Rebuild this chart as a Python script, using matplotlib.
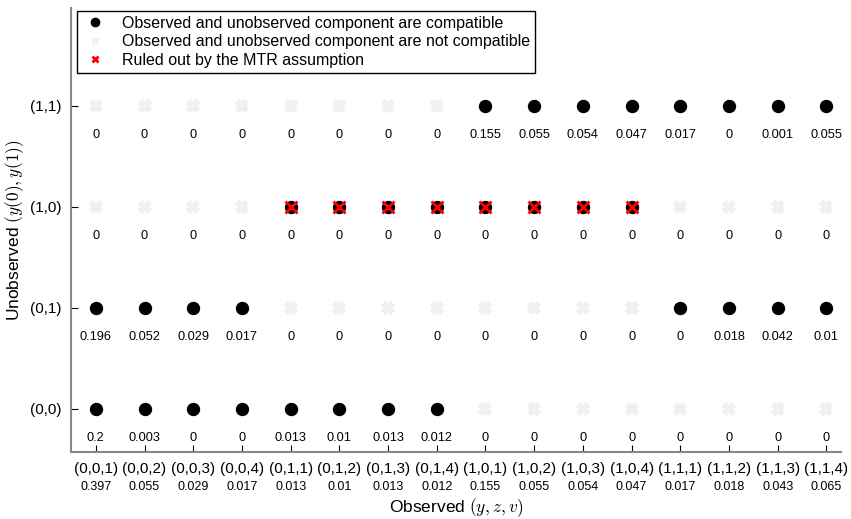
import matplotlib
matplotlib.use("Agg")
import matplotlib.pyplot as plt
import matplotlib.transforms as mtransforms
from matplotlib.lines import Line2D
import numpy as np

plt.rcParams['font.family'] = ['Liberation Sans', 'DejaVu Sans']
plt.rcParams['mathtext.fontset'] = 'cm'

observed = ["(0,0,1)", "(0,0,2)", "(0,0,3)", "(0,0,4)", "(0,1,1)", "(0,1,2)", "(0,1,3)", "(0,1,4)",
            "(1,0,1)", "(1,0,2)", "(1,0,3)", "(1,0,4)", "(1,1,1)", "(1,1,2)", "(1,1,3)", "(1,1,4)"]
marginal = [0.397, 0.055, 0.029, 0.017, 0.013, 0.01, 0.013, 0.012,
            0.155, 0.055, 0.054, 0.047, 0.017, 0.018, 0.043, 0.065]
unobserved = ["(0,0)", "(0,1)", "(1,0)", "(1,1)"]

prob_00 = [0.2, 0.003, 0, 0, 0.013, 0.01, 0.013, 0.012, 0, 0, 0, 0, 0, 0, 0, 0]
prob_01 = [0.196, 0.052, 0.029, 0.017, 0, 0, 0, 0, 0, 0, 0, 0, 0, 0.018, 0.042, 0.01]
prob_10 = [0, 0, 0, 0, 0, 0, 0, 0, 0, 0, 0, 0, 0, 0, 0, 0]
prob_11 = [0, 0, 0, 0, 0, 0, 0, 0, 0.155, 0.055, 0.054, 0.047, 0.017, 0, 0.001, 0.055]

compat_00 = [1, 1, 1, 1, 1, 1, 1, 1, 0, 0, 0, 0, 0, 0, 0, 0]
compat_01 = [1, 1, 1, 1, 0, 0, 0, 0, 0, 0, 0, 0, 1, 1, 1, 1]
compat_10 = [0, 0, 0, 0, 1, 1, 1, 1, 1, 1, 1, 1, 0, 0, 0, 0]
compat_11 = [0, 0, 0, 0, 0, 0, 0, 0, 1, 1, 1, 1, 1, 1, 1, 1]

mtr_10 = [0, 0, 0, 0, 1, 1, 1, 1, 1, 1, 1, 1, 0, 0, 0, 0]
mtr_00 = [0] * 16
mtr_01 = [0] * 16
mtr_11 = [0] * 16

probs = [prob_00, prob_01, prob_10, prob_11]
compats = [compat_00, compat_01, compat_10, compat_11]
mtrs = [mtr_00, mtr_01, mtr_10, mtr_11]

fig = plt.figure(figsize=(8.51, 5.19), dpi=100)
ax = fig.add_axes([71/851, 1 - 452/519, (841-71)/851, (452-8)/519])

x = np.arange(len(observed))
gray = '#f0f0f0'
for r in range(4):
    for c in range(16):
        if compats[r][c]:
            ax.plot(c, r, 'o', color='black', markersize=8.6, zorder=3)
        else:
            ax.plot(c, r, 'x', color=gray, markersize=7, mew=4.5, zorder=2)
        if mtrs[r][c]:
            ax.plot(c, r, 'x', color='red', markersize=8.5, mew=2, zorder=4)
        ax.annotate(f"{probs[r][c]:g}", (c, r), xytext=(0, -21), textcoords='offset points',
                    ha='center', va='center', fontsize=9.2)

ax.set_xlim(-0.51, 15.3)
ax.set_ylim(-0.43, 3.97)
ax.set_xticks(x)
ax.set_xticklabels(observed, fontsize=11)
ax.set_yticks(range(4))
ax.set_yticklabels(unobserved, fontsize=11)
ax.tick_params(direction='in', length=5, width=0.8, colors='black', pad=7)
for s in ['top', 'right']:
    ax.spines[s].set_visible(False)
for s in ['left', 'bottom']:
    ax.spines[s].set_color('#888888')
    ax.spines[s].set_linewidth(1.5)

trans = mtransforms.blended_transform_factory(ax.transData, fig.transFigure)
for c in range(16):
    ax.text(c, 1 - 487/519, f"{marginal[c]:g}", transform=trans, ha='center', va='center', fontsize=9)

fig.text(0.5 * (71 + 841) / 851, 1 - 508/519, r"Observed $(y,z,v)$", ha='center', va='center', fontsize=12.5)
fig.text(15/851, 1 - 230/519, r"Unobserved $(y(0),y(1))$", ha='center', va='center', rotation=90, fontsize=12.5)

handles = [
    Line2D([], [], marker='o', color='black', linestyle='none', markersize=6),
    Line2D([], [], marker='x', color=gray, linestyle='none', markersize=5, mew=2),
    Line2D([], [], marker='x', color='red', linestyle='none', markersize=5, mew=2),
]
labels = ["Observed and unobserved component are compatible",
          "Observed and unobserved component are not compatible",
          "Ruled out by the MTR assumption"]
leg = ax.legend(handles, labels, loc='upper left', bbox_to_anchor=(0.008, 0.993), fontsize=11.5,
                frameon=True, fancybox=False, edgecolor='black', framealpha=1,
                borderpad=0.3, labelspacing=0.22, handletextpad=0.9, handlelength=1.6,
                borderaxespad=0.0)
leg.get_frame().set_linewidth(1.0)

fig.savefig("out.png", dpi=100)
